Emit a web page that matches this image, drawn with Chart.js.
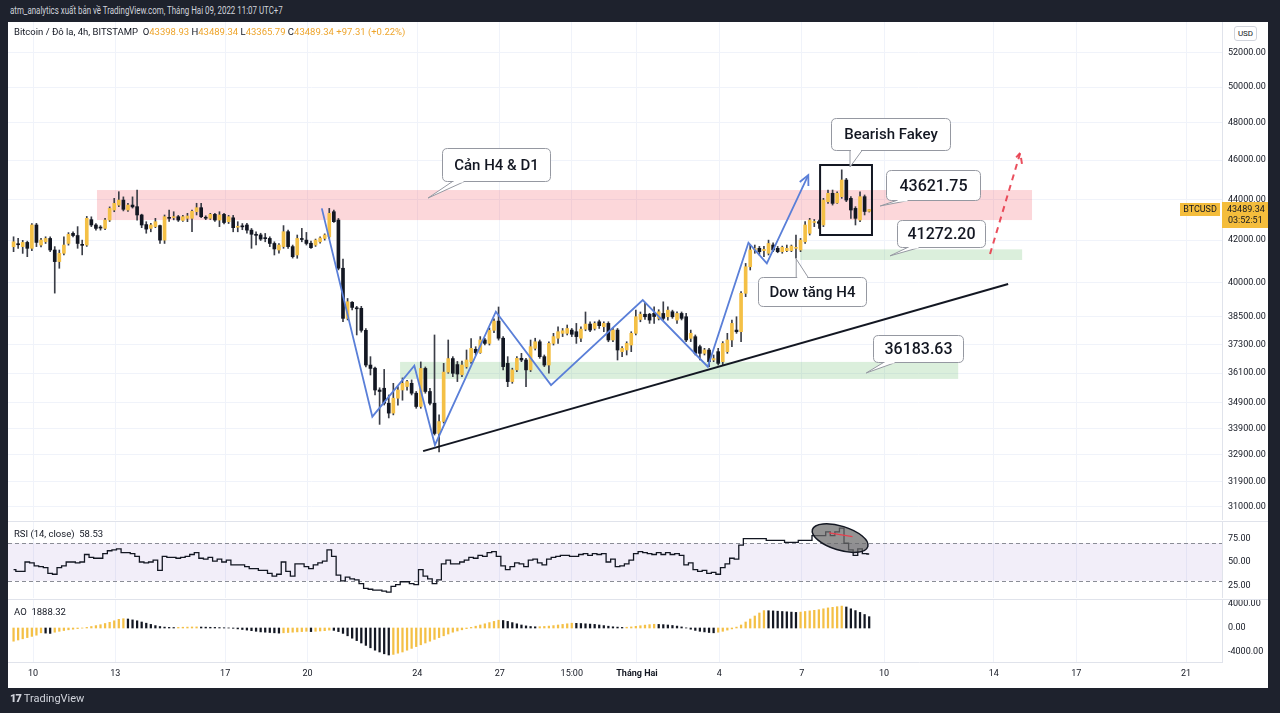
<!DOCTYPE html>
<html lang="vi">
<head>
<meta charset="utf-8">
<title>BTCUSD 4h</title>
<script src="https://cdn.jsdelivr.net/npm/chart.js@4.4.1/dist/chart.umd.min.js"></script>
<style>
  html, body { margin:0; padding:0; width:1280px; height:713px; overflow:hidden; background:#1e222d; font-family: Roboto, "Liberation Sans", Arial, sans-serif; }
  #panel { position:absolute; left:8px; top:22px; width:1260px; height:666px; background:#ffffff; }
  canvas { position:absolute; }
  .hline { position:absolute; left:8px; width:1260px; height:1px; background:#e0e3eb; }
  #title { position:absolute; left:10px; top:4px; color:#d1d4dc; font-size:11px; white-space:nowrap; transform-origin:left top; transform:scaleX(0.72); }
  #legend { position:absolute; left:14px; top:26px; font-size:9.5px; color:#131722; white-space:nowrap; }
  #legend .v { color:#eea52c; }
  .paneLbl { position:absolute; left:14px; font-size:9.5px; color:#131722; white-space:nowrap; }
  #logo { position:absolute; left:10px; top:692px; color:#d1d4dc; font-size:11px; white-space:nowrap; }
  #logo b { font-weight:900; letter-spacing:-1px; margin-right:3px; }
  #usd { position:absolute; left:1234px; top:26px; width:21px; height:13px; border:1px solid #d1d4dc; border-radius:3px; font-size:8px; color:#131722; text-align:center; line-height:13px; background:#fff; }
</style>
</head>
<body>
<div id="title">atm_analytics xuất bản về TradingView.com, Tháng Hai 09, 2022 11:07 UTC+7</div>
<div id="panel"></div>
<canvas id="cPrice" width="1260" height="498" style="left:8px;top:22px"></canvas>
<canvas id="cRsi" width="1260" height="76" style="left:8px;top:522px"></canvas>
<canvas id="cAo" width="1260" height="88" style="left:8px;top:600px"></canvas>
<div class="hline" style="top:521px"></div>
<div class="hline" style="top:599px"></div>
<div id="legend"></div>
<div class="paneLbl" style="top:528px">RSI (14, close)&nbsp;&nbsp;<span id="rsiVal"></span></div>
<div class="paneLbl" style="top:606px">AO&nbsp;&nbsp;<span id="aoVal"></span></div>
<div id="usd">USD</div>
<div id="logo"><b>17</b>TradingView</div>
<script>
// ---------------- DATA ----------------
const symbolName = 'Bitcoin / Đô la, 4h, BITSTAMP';
const firstCandleDay = -17 / 24;      // Jan 9, 07:00 (days from Jan 10, 00:00)
const candleStepDays = 4 / 24;        // 4h candles

const opens = [41685,41800,41690,41890,41610,42730,41765,41920,42080,41530,
40985,41375,41840,42325,42220,41800,41765,42990,42730,42600,
42565,42970,43465,43710,43960,43465,43710,43630,43220,42750,
42565,42650,42700,42000,43100,43090,43135,42950,43055,43055,
43380,43580,43100,43055,43250,42970,43250,42890,43080,42620,
42680,42730,42480,42280,42250,42090,42080,41840,41530,41690,
42405,41690,41295,42050,42000,41850,41765,41920,42080,42160,
43380,42970,40675,38420,39130,38870,38860,37900,36430,36300,
35410,35480,34880,34490,35080,35410,35550,35680,35280,34750,
36290,35350,34880,33700,34160,36140,36700,36450,36030,36360,
36570,37090,36950,37485,37340,37900,38300,37560,36500,35750,
36230,36710,36640,36230,37130,37410,36780,36430,37340,37560,
37770,37770,37910,37840,37560,37950,38170,37980,38270,38055,
38200,37485,37910,36990,37060,37270,37770,38370,38600,38600,
38640,38420,38635,38490,38710,38345,38635,38490,37555,37625,
37200,36920,37060,36640,36990,36570,36990,37485,37910,37840,
39530,40745,41530,41610,41500,41375,41765,41610,41450,41500,
41500,41610,41530,41920,42325,42850,42890,42730,43880,44300,
43820,44130,44975,44045,43545,42970,44130,43398.93];
const highs = [42160,42080,41990,41950,42800,42810,42080,42160,42160,41690,
41530,42160,42360,42400,42650,42000,43150,43130,42800,42700,
43050,43620,44045,44380,44120,43800,44120,44460,43260,42890,
42810,43055,42730,43220,43460,43380,43200,43200,43300,43460,
43800,43800,43180,43300,43300,43380,43300,43200,43200,42890,
42800,42810,42560,42400,42330,42320,42160,41920,41840,42700,
42480,41765,42245,42565,42370,41950,42050,42160,42300,43545,
43460,43050,41100,39300,39160,38950,38950,37980,36780,36350,
35500,36250,35210,35680,35550,35900,35800,35820,35350,36560,
36350,35480,37700,34420,36500,37485,36780,36580,36600,37060,
37550,37200,37630,37560,38000,38400,38920,37630,36780,36300,
36780,36920,36710,37485,37560,37485,36850,37410,37770,38055,
37980,38130,37980,38200,38055,38700,38270,38270,38345,38270,
38270,38000,37980,37200,37410,37840,38780,38700,39100,38640,
38930,38800,39150,38930,38780,38710,38700,38635,37910,37700,
37270,37130,37130,36850,37130,37415,37770,38345,38490,39605,
40900,41765,41765,41700,41700,42000,41870,41700,41715,41765,
41765,42245,42080,42890,43055,43000,42970,44045,44465,44465,
44380,45500,45060,44130,43630,44380,44215,43489.34];
const lows = [41450,41600,41370,41215,41500,41690,41680,41840,41450,39540,
40675,41295,41760,42150,41610,41300,41700,42650,42480,42480,
42500,42900,43380,43630,43420,43400,43560,42970,42600,42330,
42400,42600,41840,41840,42900,42980,42900,42900,42890,42400,
43220,43090,42990,43000,42900,42650,42780,42800,42400,42400,
42500,42330,41610,41770,41980,41920,41690,41295,41375,41610,
41610,41150,41140,41920,41765,41610,41700,41850,42000,42080,
42850,40600,38270,38350,38790,37700,37820,36350,36020,35210,
34050,34810,34300,34420,34800,35000,35400,35210,34680,34680,
35280,34810,33640,33000,34100,36090,35950,35750,35950,36300,
36500,36850,36920,37270,37270,37800,37480,36230,35545,35680,
36160,36570,35545,36160,37060,36710,36365,36090,37270,37340,
37630,37700,37630,37340,37410,37880,37840,37910,37980,37840,
37410,37410,36640,36780,36850,36990,37700,38270,38370,38200,
38200,38350,38345,38345,38420,38200,38350,37415,37415,36850,
36640,36850,36365,36570,36430,36430,36920,37200,37770,37415,
39380,40595,41375,41295,41215,41295,41450,41400,41375,41450,
41450,41140,41450,41840,42245,42650,42565,42650,43795,43710,
43795,44045,43880,43055,42730,42890,43220,43365.79];
const closes = [41920,41780,41890,41610,42730,41890,42000,42080,41530,40985,
41375,41765,42280,42220,41840,41750,43055,42730,42565,42580,
42970,43545,43795,43960,43500,43710,43620,43220,42730,42530,
42730,42890,42000,43135,43055,43100,42970,43135,43170,43400,
43580,43135,43060,43250,42970,43220,42850,43135,42600,42650,
42640,42480,42280,42230,42050,42070,41840,41580,41765,42405,
41690,41215,42080,42030,41840,41640,42000,42100,42245,43300,
42890,40675,38420,39155,38900,38840,37900,36430,36290,35410,
35350,34880,34490,35080,35410,35680,35750,35280,34750,36290,
35350,34880,33700,34160,36140,36700,36090,36060,36430,36640,
37130,36950,37485,37340,37900,38300,37560,36365,35750,36230,
36710,36640,36230,37200,37410,36780,36430,37340,37630,37840,
37880,37980,37730,37630,37950,38170,37910,38200,38100,38200,
37485,37910,37060,37130,37340,37770,38490,38600,38490,38345,
38500,38710,38420,38780,38490,38635,38420,37485,37770,36920,
36920,37060,36570,36700,36500,37340,37485,38200,37840,39530,
40745,41530,41610,41450,41560,41840,41530,41450,41655,41610,
41715,41620,42000,42730,42970,42900,42810,43960,44300,43795,
44300,44975,43960,43465,43055,44130,43392.03,43489.34];

const rsiValues = [42,40,40,50,49,46,45,44,38,37,
44,46,50,50,49,50,58,55,54,54,
59,62,63,64,60,60,59,56,50,49,
50,52,41,56,55,55,54,55,56,58,
60,54,53,55,51,53,50,52,47,47,
47,45,43,43,41,41,38,35,37,50,
40,35,48,48,45,43,47,49,51,63,
56,36,30,34,32,31,27,22,21,20,
20,19,18,24,26,29,29,27,26,42,
35,32,27,31,48,52,48,48,50,52,
55,54,57,56,60,61,56,46,42,45,
49,48,45,52,53,49,47,53,55,56,
57,57,56,56,58,59,57,59,58,59,
50,53,45,46,48,52,59,61,60,59,
58,60,58,60,58,59,57,47,49,42,
40,41,38,39,37,44,48,54,53,68,
75,75,75,75,75,73,73,73,73,71,
71,71,73,73,73,78,78,78,82,78,
82,86,70,63,57,64,59,58.53];

const aoValues = [-2200,-2000,-1800,-1600,-1400,-1200,-800,-850,-900,-700,
-550,-420,-300,-200,-100,-20,100,250,400,550,
750,950,1200,1450,1550,1500,1350,1200,1000,800,
600,400,250,150,100,80,100,130,150,170,
180,160,140,120,100,70,40,10,-50,-150,
-250,-350,-450,-550,-650,-700,-750,-800,-850,-800,
-750,-700,-650,-600,-550,-600,-550,-500,-450,-350,
-400,-600,-900,-1300,-1700,-2100,-2500,-2900,-3300,-3700,
-4000,-4300,-4500,-4400,-4200,-4000,-3700,-3400,-3100,-2800,
-2500,-2200,-1900,-1600,-1300,-1000,-700,-500,-300,-100,
100,300,500,700,900,1100,1300,1250,1100,900,
700,500,350,250,200,220,260,320,400,500,
600,700,800,780,750,700,650,600,500,400,
300,200,150,100,130,180,280,380,480,560,
620,600,560,500,420,320,180,20,-200,-400,
-550,-650,-750,-800,-700,-550,-350,-150,150,500,
1000,1500,2000,2500,2900,2880,2850,2800,2750,2700,
2650,2600,2650,2750,2850,2950,3050,3200,3350,3450,
3550,3650,3500,3200,2900,2600,2250,1888.32];

const xTickDays = [0, 3, 7, 10, 14, 17, 19.625, 22, 25, 28, 31, 35, 38, 42];
const xTickLabels = ['10','13','17','20','24','27','15:00','Tháng Hai','4','7','10','14','17','21'];
const priceTicks = [31000,31900,32900,33900,34900,36100,37300,38500,40000,42000,44000,46000,48000,50000,52000];
const rsiTicks = [25, 50, 75];
const aoTicks = [-4000, 0, 4000];

// drawings (data coordinates: day, price)
const resistanceZone = { fromDay: 2.33, toDay: 36.39, top: 44465, bottom: 42970 };
const supportZoneHigh = { fromDay: 27.94, toDay: 36.03, top: 41560, bottom: 41060 };
const supportZoneLow = { fromDay: 13.37, toDay: 33.70, top: 36560, bottom: 35860 };
const trendDays = [14.21, 35.52];
const trendPrices = [33030, 39950];
const zigzagDays = [10.52, 12.36, 13.89, 14.64, 16.86, 18.87, 22.21, 24.58, 26.06, 26.73, 28.24];
const zigzagPrices = [43545, 34350, 36400, 33260, 38710, 35610, 39230, 36360, 41875, 40905, 45230];
const projectionDays = [34.86, 35.96];
const projectionPrices = [41340, 46380];
const fakeyBox = { fromDay: 28.67, toDay: 30.56, top: 45750, bottom: 42245 };
const callouts = [
  { text: 'Cản H4 & D1', day: 16.87, price: 45776, tipDay: 14.39, tipPrice: 44062, w: 108, h: 33, num: false },
  { text: 'Bearish Fakey', day: 31.22, price: 47395, tipDay: 29.76, tipPrice: 45646, w: 119, h: 32, num: false },
  { text: '43621.75', day: 32.79, price: 44720, tipDay: 30.86, tipPrice: 43665, w: 94, h: 30, num: true },
  { text: '41272.20', day: 33.08, price: 42318, tipDay: 31.22, tipPrice: 41255, w: 88, h: 27, num: true },
  { text: 'Dow tăng H4', day: 28.38, price: 39630, tipDay: 27.80, tipPrice: 41108, w: 108, h: 29, num: false },
  { text: '36183.63', day: 32.24, price: 37123, tipDay: 30.35, tipPrice: 36103, w: 90, h: 27, num: true }
];
const rsiMarker = { day: 29.4, value: 75.5, redFromDay: 29.0, redFromValue: 81, redToDay: 29.85, redToValue: 77 };

// ---------------- RENDERING ----------------
const FONT = 'Roboto, "Liberation Sans", Arial, sans-serif';
const UP = '#f4c046', DOWN = '#131722', WICK = '#3b3e47';
const xMin = -0.911, xMax = 43.31;
const priceMin = 30537, priceMax = 53842;
const rsiMin = 11.7, rsiMax = 92.6;
const aoMin = -5667, aoMax = 4667;

const times = opens.map((_, i) => firstCandleDay + i * candleStepDays);
const last = opens.length - 1;

// legends (from data)
const chg = closes[last] - closes[last - 1];
const pct = chg / closes[last - 1] * 100;
const sign = chg >= 0 ? '+' : '';
document.getElementById('legend').innerHTML =
  symbolName + '&nbsp;&nbsp;O<span class="v">' + opens[last].toFixed(2) + '</span> H<span class="v">' + highs[last].toFixed(2) +
  '</span> L<span class="v">' + lows[last].toFixed(2) + '</span> C<span class="v">' + closes[last].toFixed(2) +
  '</span> <span class="v">' + sign + chg.toFixed(2) + ' (' + sign + pct.toFixed(2) + '%)</span>';
document.getElementById('rsiVal').textContent = rsiValues[last].toFixed(2);
document.getElementById('aoVal').textContent = aoValues[last].toFixed(2);

Chart.defaults.font.family = FONT;
Chart.defaults.color = '#131722';

function xScale(showLabels) {
  return {
    type: 'linear', min: xMin, max: xMax, offset: false,
    afterBuildTicks: s => { s.ticks = xTickDays.map(v => ({ value: v })); },
    grid: { color: '#f0f3fa', drawTicks: false, offset: false },
    border: { display: showLabels, color: '#e0e3eb' },
    ticks: {
      display: showLabels, autoSkip: false, maxRotation: 0, padding: 6, color: '#131722',
      font: ctx => ({ size: 9, family: FONT, weight: (ctx.tick && ctx.tick.value === 22) ? 'bold' : 'normal' }),
      callback: (v, i) => xTickLabels[i]
    },
    afterFit: s => { s.height = showLabels ? 26 : 0; s.paddingLeft = 0; s.paddingRight = 0; }
  };
}
function yScale(type, min, max, ticks, gridOn) {
  return {
    type, position: 'right', min, max, beginAtZero: false,
    afterBuildTicks: s => { s.ticks = ticks.map(v => ({ value: v })); },
    ticks: { autoSkip: false, padding: 6, color: '#131722', font: { size: 9, family: FONT }, callback: v => Number(v).toFixed(2) },
    grid: { display: gridOn, color: '#f0f3fa', drawTicks: false },
    border: { display: true, color: '#e0e3eb' },
    afterFit: s => { s.width = 46; s.paddingTop = 0; s.paddingBottom = 0; }
  };
}

function roundRect(ctx, x, y, w, h, r) {
  ctx.beginPath();
  ctx.moveTo(x + r, y); ctx.lineTo(x + w - r, y); ctx.quadraticCurveTo(x + w, y, x + w, y + r);
  ctx.lineTo(x + w, y + h - r); ctx.quadraticCurveTo(x + w, y + h, x + w - r, y + h);
  ctx.lineTo(x + r, y + h); ctx.quadraticCurveTo(x, y + h, x, y + h - r);
  ctx.lineTo(x, y + r); ctx.quadraticCurveTo(x, y, x + r, y); ctx.closePath();
}
function arrowHead(ctx, fx, fy, tx, ty, len) {
  const a = Math.atan2(ty - fy, tx - fx);
  ctx.beginPath();
  ctx.moveTo(tx - len * Math.cos(a - 0.45), ty - len * Math.sin(a - 0.45));
  ctx.lineTo(tx, ty);
  ctx.lineTo(tx - len * Math.cos(a + 0.45), ty - len * Math.sin(a + 0.45));
  ctx.stroke();
}

const pricePlugin = {
  id: 'priceDrawings',
  beforeDatasetsDraw(chart) {
    const { ctx, scales: { x, y } } = chart;
    ctx.save();
    const zone = (z, c) => {
      const x1 = x.getPixelForValue(z.fromDay), x2 = x.getPixelForValue(z.toDay);
      const y1 = y.getPixelForValue(z.top), y2 = y.getPixelForValue(z.bottom);
      ctx.fillStyle = c; ctx.fillRect(x1, y1, x2 - x1, y2 - y1);
    };
    zone(resistanceZone, 'rgba(242,54,69,0.2)');
    zone(supportZoneHigh, 'rgba(76,175,80,0.2)');
    zone(supportZoneLow, 'rgba(76,175,80,0.2)');
    ctx.restore();
  },
  afterDatasetsDraw(chart) {
    const { ctx, scales: { x, y } } = chart;
    ctx.save();
    ctx.strokeStyle = '#131722'; ctx.lineWidth = 2;
    ctx.beginPath();
    ctx.moveTo(x.getPixelForValue(trendDays[0]), y.getPixelForValue(trendPrices[0]));
    ctx.lineTo(x.getPixelForValue(trendDays[1]), y.getPixelForValue(trendPrices[1]));
    ctx.stroke();
    ctx.strokeStyle = '#5a7fd8'; ctx.lineWidth = 1.8; ctx.lineJoin = 'miter';
    ctx.beginPath();
    zigzagDays.forEach((d, i) => {
      const px = x.getPixelForValue(d), py = y.getPixelForValue(zigzagPrices[i]);
      i ? ctx.lineTo(px, py) : ctx.moveTo(px, py);
    });
    ctx.stroke();
    const n = zigzagDays.length;
    arrowHead(ctx, x.getPixelForValue(zigzagDays[n - 2]), y.getPixelForValue(zigzagPrices[n - 2]),
      x.getPixelForValue(zigzagDays[n - 1]), y.getPixelForValue(zigzagPrices[n - 1]), 11);
    ctx.strokeStyle = 'rgba(232,60,75,0.9)'; ctx.lineWidth = 2; ctx.setLineDash([6, 5]);
    const p0x = x.getPixelForValue(projectionDays[0]), p0y = y.getPixelForValue(projectionPrices[0]);
    const p1x = x.getPixelForValue(projectionDays[1]), p1y = y.getPixelForValue(projectionPrices[1]);
    ctx.beginPath(); ctx.moveTo(p0x, p0y); ctx.lineTo(p1x, p1y); ctx.stroke();
    arrowHead(ctx, p0x, p0y, p1x, p1y, 11);
    ctx.setLineDash([]);
    ctx.strokeStyle = '#131722'; ctx.lineWidth = 2;
    const bx1 = x.getPixelForValue(fakeyBox.fromDay), bx2 = x.getPixelForValue(fakeyBox.toDay);
    const by1 = y.getPixelForValue(fakeyBox.top), by2 = y.getPixelForValue(fakeyBox.bottom);
    ctx.strokeRect(bx1, by1, bx2 - bx1, by2 - by1);
    callouts.forEach(c => {
      const cx = x.getPixelForValue(c.day), cy = y.getPixelForValue(c.price);
      const tx = x.getPixelForValue(c.tipDay), ty = y.getPixelForValue(c.tipPrice);
      const l = Math.round(cx - c.w / 2) + 0.5, t = Math.round(cy - c.h / 2) + 0.5, r = l + c.w, b = t + c.h;
      let b1, b2;
      if (ty > b) { const q = Math.min(Math.max(tx, l + 10), r - 22); b1 = [q, b]; b2 = [q + 12, b]; }
      else if (ty < t) { const q = Math.min(Math.max(tx, l + 10), r - 22); b1 = [q, t]; b2 = [q + 12, t]; }
      else if (tx < l) { const q = Math.min(Math.max(ty, t + 6), b - 16); b1 = [l, q]; b2 = [l, q + 10]; }
      else { const q = Math.min(Math.max(ty, t + 6), b - 16); b1 = [r, q]; b2 = [r, q + 10]; }
      ctx.lineWidth = 1; ctx.strokeStyle = '#9598a1'; ctx.fillStyle = '#ffffff';
      ctx.beginPath(); ctx.moveTo(b1[0], b1[1]); ctx.lineTo(tx, ty); ctx.lineTo(b2[0], b2[1]); ctx.closePath();
      ctx.fill(); ctx.stroke();
      roundRect(ctx, l, t, c.w, c.h, 5); ctx.fill(); ctx.stroke();
      ctx.strokeStyle = '#ffffff'; ctx.lineWidth = 2;
      ctx.beginPath(); ctx.moveTo(b1[0] + (b1[1] === b2[1] ? 1 : 0), b1[1] + (b1[0] === b2[0] ? 1 : 0));
      ctx.lineTo(b2[0] - (b1[1] === b2[1] ? 1 : 0), b2[1] - (b1[0] === b2[0] ? 1 : 0)); ctx.stroke();
      ctx.fillStyle = '#131722';
      ctx.font = (c.num ? '500 16px ' : '500 15px ') + FONT;
      ctx.textAlign = 'center'; ctx.textBaseline = 'middle';
      ctx.fillText(c.text, (l + r) / 2, (t + b) / 2 + 1);
    });
    ctx.restore();
  },
  afterDraw(chart) {
    const { ctx, chartArea, scales: { y } } = chart;
    ctx.save();
    const py = Math.round(y.getPixelForValue(closes[last]));
    ctx.fillStyle = '#f4bd3c';
    ctx.fillRect(chartArea.right, py - 8, chart.width - chartArea.right, 26);
    ctx.fillRect(chartArea.right - 42, py - 7, 40, 13);
    ctx.fillStyle = '#131722'; ctx.font = '9px ' + FONT; ctx.textBaseline = 'middle'; ctx.textAlign = 'left';
    ctx.fillText(closes[last].toFixed(2), chartArea.right + 5, py);
    ctx.fillText('03:52:51', chartArea.right + 6, py + 11);
    ctx.textAlign = 'center';
    ctx.fillText('BTCUSD', chartArea.right - 22, py);
    ctx.restore();
  }
};

new Chart(document.getElementById('cPrice'), {
  type: 'bar',
  data: {
    datasets: [
      { data: times.map((t, i) => ({ x: t, y: [lows[i], highs[i]] })), backgroundColor: WICK, barThickness: 1, grouped: false, borderWidth: 0, order: 2 },
      { data: times.map((t, i) => ({ x: t, y: [opens[i], closes[i]] })), backgroundColor: opens.map((o, i) => closes[i] >= o ? UP : DOWN),
        barThickness: 3, minBarLength: 1, grouped: false, borderWidth: 0, order: 1 }
    ]
  },
  options: {
    responsive: false, animation: false, devicePixelRatio: 1,
    layout: { padding: 0 },
    plugins: { legend: { display: false }, tooltip: { enabled: false } },
    scales: { x: xScale(false), y: yScale('logarithmic', priceMin, priceMax, priceTicks, true) }
  },
  plugins: [pricePlugin]
});

const rsiPlugin = {
  id: 'rsiDrawings',
  beforeDatasetsDraw(chart) {
    const { ctx, chartArea: a, scales: { x, y } } = chart;
    ctx.save();
    const y70 = y.getPixelForValue(70), y30 = y.getPixelForValue(30);
    ctx.fillStyle = 'rgba(126,87,194,0.1)';
    ctx.fillRect(a.left, y70, a.right - a.left, y30 - y70);
    ctx.strokeStyle = '#8a8d96'; ctx.lineWidth = 1; ctx.setLineDash([4, 3]);
    [y70, y30].forEach(v => { ctx.beginPath(); ctx.moveTo(a.left, Math.round(v) + 0.5); ctx.lineTo(a.right, Math.round(v) + 0.5); ctx.stroke(); });
    ctx.restore();
  },
  afterDatasetsDraw(chart) {
    const { ctx, scales: { x, y } } = chart;
    ctx.save();
    const cx = x.getPixelForValue(rsiMarker.day), cy = y.getPixelForValue(rsiMarker.value);
    ctx.beginPath(); ctx.ellipse(cx, cy, 29, 12, 0.3, 0, Math.PI * 2);
    ctx.fillStyle = 'rgba(105,105,105,0.72)'; ctx.fill();
    ctx.strokeStyle = '#131722'; ctx.lineWidth = 1.5; ctx.stroke();
    ctx.strokeStyle = '#e8404f'; ctx.lineWidth = 1.2;
    ctx.beginPath();
    ctx.moveTo(x.getPixelForValue(rsiMarker.redFromDay), y.getPixelForValue(rsiMarker.redFromValue));
    ctx.lineTo(x.getPixelForValue(rsiMarker.redToDay), y.getPixelForValue(rsiMarker.redToValue));
    ctx.stroke();
    ctx.restore();
  }
};

new Chart(document.getElementById('cRsi'), {
  type: 'line',
  data: { datasets: [{ data: times.map((t, i) => ({ x: t, y: rsiValues[i] })), borderColor: '#131722', borderWidth: 1.3, pointRadius: 0, stepped: 'middle', fill: false }] },
  options: {
    responsive: false, animation: false, devicePixelRatio: 1,
    layout: { padding: 0 },
    plugins: { legend: { display: false }, tooltip: { enabled: false } },
    scales: { x: xScale(false), y: yScale('linear', rsiMin, rsiMax, rsiTicks, false) }
  },
  plugins: [rsiPlugin]
});

new Chart(document.getElementById('cAo'), {
  type: 'bar',
  data: { datasets: [{ data: times.map((t, i) => ({ x: t, y: aoValues[i] })),
    backgroundColor: aoValues.map((v, i) => (i === 0 || v >= aoValues[i - 1]) ? UP : DOWN),
    barThickness: 1.6, borderWidth: 0, grouped: false }] },
  options: {
    responsive: false, animation: false, devicePixelRatio: 1,
    layout: { padding: 0 },
    plugins: { legend: { display: false }, tooltip: { enabled: false } },
    scales: { x: xScale(true), y: yScale('linear', aoMin, aoMax, aoTicks, false) }
  }
});
</script>
</body>
</html>
